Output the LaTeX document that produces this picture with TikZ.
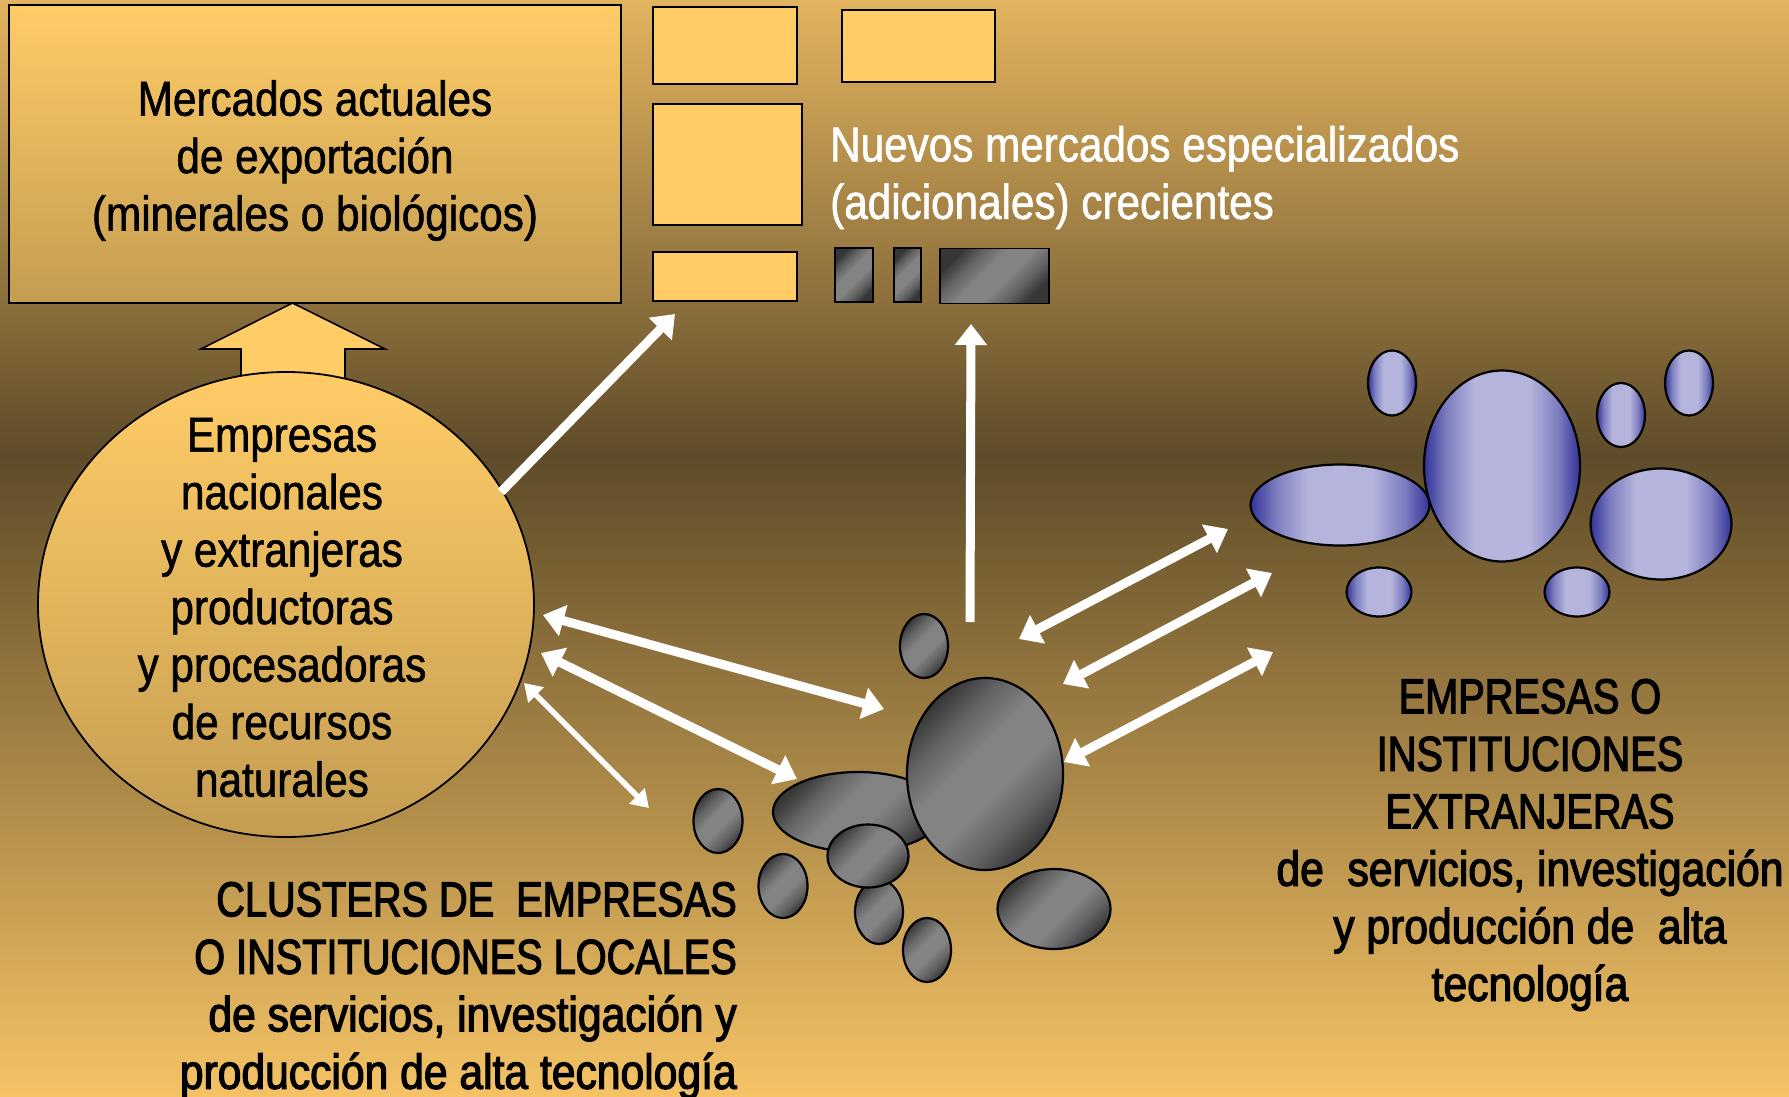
\documentclass[tikz,border=0pt]{standalone}
\usepackage{fontspec}
\setmainfont{Liberation Sans}[FakeStretch=0.862, FakeBold=1.2]
\newfontfamily\labfont{Liberation Sans}[FakeStretch=0.87, FakeBold=2.4]
\newfontfamily\capfont{Liberation Sans}[FakeStretch=0.81, FakeBold=2.4]
\usetikzlibrary{shapes.geometric,arrows.meta}
\definecolor{bgtop}{HTML}{E3B45F}
\definecolor{bgmid}{HTML}{5E4B29}
\definecolor{bgbot}{HTML}{F5C365}
\definecolor{gold}{HTML}{FFCC66}
\definecolor{goldd}{HTML}{C49D52}
\definecolor{gdark}{HTML}{363636}
\definecolor{gmid}{HTML}{838383}
\definecolor{gmix}{HTML}{626262}
\definecolor{bdark}{HTML}{333399}
\definecolor{blight}{HTML}{B4B4DC}
\definecolor{bmix}{HTML}{7C7CBF}
\pgfdeclarehorizontalshading{grayh}{100bp}{color(0bp)=(gdark); color(25bp)=(gdark); color(34bp)=(gmix); color(44bp)=(gmid); color(56bp)=(gmid); color(66bp)=(gmix); color(75bp)=(gdark); color(100bp)=(gdark)}
\pgfdeclarehorizontalshading{blueh}{100bp}{color(0bp)=(bdark); color(25bp)=(bdark); color(32bp)=(bmix); color(41bp)=(blight); color(59bp)=(blight); color(68bp)=(bmix); color(75bp)=(bdark); color(100bp)=(bdark)}
\tikzset{
  goldbox/.style={rectangle, draw=black, line width=1.8pt, fill=gold, inner sep=0pt},
  graybox/.style={rectangle, draw=black, line width=1.8pt, inner sep=0pt,
    shading=grayh, shading angle=-45},
  grayell/.style={ellipse, draw=black, line width=2.2pt, inner sep=0pt,
    shading=grayh, shading angle=-45},
  blueell/.style={ellipse, draw=black, line width=2.2pt, inner sep=0pt,
    shading=blueh},
  bigtext/.style={font=\fontsize{49}{57.5}\selectfont, inner sep=0pt},
  warrow/.style={draw=white, line width=9pt, -{Triangle[length=21pt,width=31pt]}},
  wdarrow/.style={draw=white, line width=9pt, {Triangle[length=21pt,width=31pt]}-{Triangle[length=21pt,width=31pt]}},
  wthin/.style={draw=white, line width=5.5pt, {Triangle[length=17pt,width=21pt]}-{Triangle[length=17pt,width=21pt]}}
}
\begin{document}
\begin{tikzpicture}[x=1pt,y=-1pt]
\useasboundingbox (0,0) rectangle (1789,1097);
% background
\shade[top color=bgtop, bottom color=bgmid] (0,0) rectangle (1789,456);
\shade[top color=bgmid, bottom color=bgbot] (0,455) rectangle (1789,1097);

% current markets box
\node[rectangle, draw=black, line width=1.8pt, top color=gold, bottom color=goldd,
      minimum width=612pt, minimum height=298pt, inner sep=0pt] (mkt) at (315,154) {};
\node[bigtext, align=center] (mkttext) at (315,160.5)
  {Mercados actuales\\de exportación\\(minerales o biológicos)};

% new market boxes
\node[goldbox, minimum width=144pt, minimum height=77pt] (ba) at (725,45.5) {};
\node[goldbox, minimum width=153pt, minimum height=72pt] (bb) at (918.5,46) {};
\node[goldbox, minimum width=149pt, minimum height=121pt] (bc) at (727.5,164.5) {};
\node[goldbox, minimum width=144pt, minimum height=49pt] (bd) at (725,276.5) {};
\node[graybox, minimum width=38pt, minimum height=54pt] (be) at (854,275) {};
\node[graybox, minimum width=27pt, minimum height=54pt] (bf) at (907.5,275) {};
\node[graybox, minimum width=109pt, minimum height=55pt] (bg) at (994.5,276) {};
\node[bigtext, text=white, align=left, anchor=west] (newtext) at (830,177.5)
  {Nuevos mercados especializados\\(adicionales) crecientes};

% block arrow up
\draw[fill=gold, draw=black, line width=1.6pt]
  (241,410) -- (241,349) -- (201,349) -- (292.5,303) -- (385,349) -- (345,349) -- (345,410);

% circle of companies
\node[ellipse, draw=black, line width=1.8pt, top color=gold, bottom color=goldd,
      minimum width=496pt, minimum height=465pt, inner sep=0pt] (circ) at (286,604.5) {};
\node[bigtext, align=center] (circtext) at (282,607.5)
  {Empresas\\nacionales\\y extranjeras\\productoras\\y procesadoras\\de recursos\\naturales};

% local cluster ellipses
\node[grayell, minimum width=170pt, minimum height=80pt] (gwide) at (858,812) {};
\node[grayell, minimum width=156pt, minimum height=192pt] (gbig) at (985,774) {};
\node[grayell, minimum width=48pt, minimum height=64pt] (gbelow) at (879,912) {};
\node[grayell, minimum width=81pt, minimum height=63pt] (gmidd) at (868,856) {};
\node[grayell, minimum width=48pt, minimum height=64pt] (gtop) at (924,646) {};
\node[grayell, minimum width=48pt, minimum height=64pt] (gbot) at (927,950) {};
\node[grayell, minimum width=49pt, minimum height=64pt] (gleft) at (718,821) {};
\node[grayell, minimum width=49pt, minimum height=64pt] (gleftb) at (783,886) {};
\node[grayell, minimum width=113pt, minimum height=80pt] (gright) at (1054,909) {};

% foreign ellipses
\node[blueell, minimum width=156pt, minimum height=191pt] (bbig) at (1502,466) {};
\node[blueell, minimum width=179pt, minimum height=81pt] (bwide) at (1340,505) {};
\node[blueell, minimum width=141pt, minimum height=111pt] (bright) at (1661,524) {};
\node[blueell, minimum width=48pt, minimum height=65pt] (btl) at (1392,383) {};
\node[blueell, minimum width=48pt, minimum height=64pt] (btm) at (1621,415) {};
\node[blueell, minimum width=48pt, minimum height=65pt] (btr) at (1689,383) {};
\node[blueell, minimum width=65pt, minimum height=49pt] (bbl) at (1379,592) {};
\node[blueell, minimum width=65pt, minimum height=49pt] (bbr) at (1577,592) {};

% arrow end points
\coordinate (a1s) at (501,492);  \coordinate (a1e) at (675,314);
\coordinate (a2s) at (970,622);  \coordinate (a2e) at (971,324);
\coordinate (a3s) at (543,615);  \coordinate (a3e) at (884,709);
\coordinate (a4s) at (541,653);  \coordinate (a4e) at (797,779);
\coordinate (a5s) at (524,683);  \coordinate (a5e) at (649,808);
\coordinate (a6s) at (1019,639); \coordinate (a6e) at (1228,529);
\coordinate (a7s) at (1063,684); \coordinate (a7e) at (1272,573);
\coordinate (a8s) at (1064,762); \coordinate (a8e) at (1273,652);

\draw[warrow] (a1s) -- (a1e);
\draw[warrow] (a2s) -- (a2e);
\draw[wdarrow] (a3s) -- (a3e);
\draw[wdarrow] (a4s) -- (a4e);
\draw[wthin] (a5s) -- (a5e);
\draw[wdarrow] (a6s) -- (a6e);
\draw[wdarrow] (a7s) -- (a7e);
\draw[wdarrow] (a8s) -- (a8e);

% labels
\node[bigtext, align=right, anchor=east] (loctext) at (737,990.5)
  {{\capfont CLUSTERS DE~~EMPRESAS}\\{\capfont O INSTITUCIONES LOCALES}\\{\labfont de servicios, investigación y}\\{\labfont producción de alta tecnología}};
\node[bigtext, align=center] (fortext) at (1530,845)
  {{\capfont EMPRESAS O}\\{\capfont INSTITUCIONES}\\{\capfont EXTRANJERAS}\\{\labfont de~~servicios, investigación}\\{\labfont y producción de~~alta}\\{\labfont tecnología}};
\end{tikzpicture}
\end{document}
